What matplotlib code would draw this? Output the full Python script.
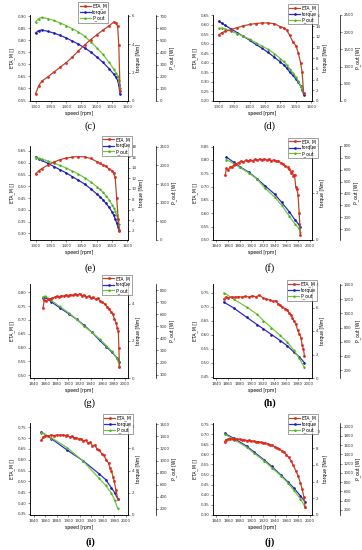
import matplotlib
matplotlib.use('Agg')
import matplotlib.pyplot as plt
from matplotlib.ticker import MultipleLocator, FormatStrFormatter

# ---- values ----
# (c)
spd_c = [1300, 1310, 1320, 1340, 1360, 1380, 1400, 1420, 1440, 1460, 1480, 1500,
         1520, 1540, 1555, 1562, 1568, 1572, 1576]
eta_c = [0.578, 0.61, 0.63, 0.648, 0.668, 0.688, 0.707, 0.73, 0.756, 0.78, 0.803, 0.823,
         0.842, 0.86, 0.875, 0.873, 0.86, 0.78, 0.59]
trq_c = [4.78, 4.95, 5.0, 4.9, 4.78, 4.62, 4.44, 4.22, 4.0, 3.75, 3.45, 3.1,
         2.72, 2.28, 1.9, 1.7, 1.45, 1.1, 0.5]
pout_c = [653, 680, 690, 680, 665, 645, 622, 598, 570, 535, 490, 440,
          385, 320, 265, 235, 205, 170, 110]

# (d)
spd_d = [1300, 1310, 1320, 1340, 1360, 1380, 1400, 1420, 1440, 1460, 1480, 1500,
         1510, 1520, 1530, 1540, 1550, 1558, 1565, 1570, 1575]
eta_d = [0.546, 0.558, 0.565, 0.575, 0.585, 0.595, 0.602, 0.607, 0.61, 0.61, 0.606, 0.59,
         0.585, 0.572, 0.545, 0.51, 0.49, 0.45, 0.40, 0.35, 0.24]
trq_d = [14.9, 14.6, 14.2, 13.5, 12.8, 12.1, 11.4, 10.6, 9.9, 9.1, 8.2, 7.3,
         6.8, 6.2, 5.4, 4.8, 4.1, 3.5, 2.8, 2.1, 1.2]
pout_d = [2110, 2120, 2100, 2030, 1960, 1880, 1800, 1700, 1600, 1500, 1380, 1230,
          1150, 1060, 930, 820, 700, 580, 450, 340, 230]

# (e)
spd_e = [1300, 1310, 1320, 1340, 1360, 1380, 1400, 1420, 1440, 1460, 1480, 1500,
         1510, 1520, 1530, 1540, 1550, 1555, 1560, 1565, 1570, 1573]
eta_e = [0.553, 0.565, 0.575, 0.59, 0.603, 0.613, 0.62, 0.624, 0.626, 0.625, 0.618, 0.605,
         0.597, 0.59, 0.585, 0.573, 0.567, 0.555, 0.54, 0.45, 0.36, 0.31]
trq_e = [16.0, 15.7, 15.4, 14.8, 14.2, 13.6, 13.0, 12.3, 11.6, 10.9, 10.0, 9.0,
         8.5, 7.9, 7.2, 6.5, 5.6, 5.0, 4.3, 3.5, 2.7, 2.2]
pout_e = [2210, 2190, 2170, 2120, 2060, 2000, 1930, 1850, 1770, 1670, 1560, 1430,
          1360, 1280, 1190, 1080, 950, 870, 780, 670, 530, 420]

# (f)
spd_f_eta = [1855, 1857, 1860, 1863, 1866, 1870, 1874, 1878, 1882, 1886, 1890, 1894,
             1898, 1902, 1906, 1910, 1914, 1918, 1922, 1926, 1930, 1934, 1938, 1942,
             1946, 1950, 1954, 1958, 1962, 1965, 1968, 1970, 1972, 1974, 1976, 1978,
             1980, 1982, 1984]
eta_f = [0.742, 0.768, 0.762, 0.772, 0.775, 0.78, 0.786, 0.79, 0.795, 0.792, 0.798, 0.795,
         0.80, 0.797, 0.802, 0.798, 0.803, 0.80, 0.804, 0.799, 0.802, 0.797, 0.80, 0.794,
         0.797, 0.789, 0.785, 0.778, 0.772, 0.765, 0.752, 0.757, 0.74, 0.745, 0.70, 0.69,
         0.67, 0.60, 0.52]
spd_f = [1857, 1870, 1880, 1895, 1910, 1923, 1940, 1952, 1965, 1975, 1981, 1984]
trq_f = [3.53, 3.3, 3.12, 2.89, 2.6, 2.31, 1.95, 1.6, 1.2, 0.85, 0.67, 0.57]
pout_f = [686, 650, 620, 575, 520, 445, 370, 300, 210, 140, 110, 75]

# (g)
spd_g_eta = [1856, 1858, 1861, 1864, 1868, 1872, 1876, 1880, 1884, 1888, 1892, 1896,
             1900, 1904, 1908, 1912, 1916, 1920, 1924, 1928, 1932, 1936, 1940, 1944,
             1948, 1952, 1956, 1960, 1964, 1968, 1972, 1975, 1978, 1981, 1984, 1986,
             1988, 1989, 1990]
eta_g = [0.745, 0.772, 0.768, 0.774, 0.776, 0.779, 0.782, 0.785, 0.783, 0.788, 0.786, 0.79,
         0.788, 0.792, 0.789, 0.794, 0.79, 0.795, 0.788, 0.79, 0.784, 0.786, 0.779, 0.782,
         0.774, 0.778, 0.768, 0.764, 0.758, 0.748, 0.74, 0.728, 0.722, 0.705, 0.69, 0.672,
         0.66, 0.60, 0.53]
spd_g = [1856, 1860, 1870, 1885, 1901, 1915, 1928, 1942, 1955, 1967, 1977, 1985, 1990]
trq_g = [4.28, 4.33, 4.1, 3.78, 3.45, 3.15, 2.83, 2.45, 2.03, 1.68, 1.38, 1.1, 0.87]
pout_g = [745, 750, 715, 665, 611, 558, 500, 450, 395, 340, 292, 240, 175]

# (h)
spd_h_eta = [1853, 1856, 1860, 1866, 1872, 1878, 1884, 1890, 1896, 1902, 1908, 1914,
             1920, 1926, 1932, 1938, 1942, 1946, 1950, 1954, 1958, 1962, 1965, 1968,
             1971, 1974, 1977, 1980, 1983, 1986, 1988, 1990, 1992]
eta_h = [0.728, 0.735, 0.733, 0.736, 0.734, 0.737, 0.735, 0.738, 0.735, 0.74, 0.736, 0.742,
         0.733, 0.728, 0.725, 0.72, 0.722, 0.712, 0.706, 0.70, 0.694, 0.69, 0.68, 0.672,
         0.662, 0.648, 0.64, 0.618, 0.605, 0.59, 0.565, 0.55, 0.525]
spd_h = [1853, 1870, 1892, 1910, 1921, 1935, 1950, 1962, 1974, 1983, 1992]
trq_h = [6.45, 5.95, 5.17, 4.55, 4.18, 3.7, 3.19, 2.75, 2.2, 1.8, 1.3]
pout_h = [1290, 1200, 1090, 990, 900, 800, 690, 600, 480, 370, 240]

# (i)
spd_i_eta = [1853, 1856, 1860, 1865, 1870, 1875, 1880, 1885, 1890, 1895, 1898, 1902,
             1906, 1910, 1914, 1918, 1922, 1926, 1930, 1934, 1938, 1942, 1946, 1950,
             1954, 1958, 1962, 1966, 1970, 1973, 1975, 1978, 1980, 1983, 1986]
eta_i = [0.69, 0.705, 0.712, 0.71, 0.714, 0.712, 0.715, 0.713, 0.716, 0.712, 0.714, 0.705,
         0.708, 0.70, 0.703, 0.695, 0.698, 0.688, 0.69, 0.678, 0.68, 0.665, 0.668, 0.65,
         0.645, 0.628, 0.62, 0.60, 0.585, 0.56, 0.55, 0.52, 0.50, 0.46, 0.42]
spd_i = [1853, 1870, 1898, 1926, 1953, 1965, 1975, 1981, 1986]
trq_i = [7.48, 6.9, 5.85, 4.88, 3.74, 3.2, 2.44, 2.0, 1.46]
pout_i = [1461, 1378, 1211, 989, 711, 590, 461, 340, 211]

# (j)
spd_j_eta = [1854, 1856, 1860, 1864, 1868, 1872, 1876, 1880, 1884, 1888, 1892, 1896,
             1900, 1904, 1908, 1912, 1916, 1920, 1924, 1928, 1932, 1936, 1940, 1944,
             1948, 1952, 1956, 1960, 1964, 1968, 1972, 1976, 1980, 1984, 1987, 1990, 1992]
eta_j = [0.662, 0.672, 0.675, 0.678, 0.676, 0.678, 0.674, 0.675, 0.671, 0.672, 0.668, 0.669,
         0.666, 0.666, 0.662, 0.663, 0.659, 0.658, 0.654, 0.652, 0.647, 0.644, 0.638, 0.632,
         0.627, 0.618, 0.61, 0.598, 0.585, 0.568, 0.545, 0.52, 0.495, 0.46, 0.43, 0.39, 0.34]
spd_j = [1854, 1870, 1892, 1905, 1921, 1935, 1950, 1962, 1973, 1984, 1992]
trq_j = [9.76, 9.15, 8.23, 7.5, 6.63, 5.8, 4.82, 4.0, 3.21, 2.3, 1.6]
pout_j = [1840, 1720, 1554, 1420, 1266, 1110, 942, 790, 619, 440, 260]

# ---- panel setup (limits, placement) ----
panels = [
    dict(tag='(c)', se=spd_c, eta=eta_c, st=spd_c, trq=trq_c, pout=pout_c,
         xlim=(1282, 1602), xstep=50, elim=(0.548, 0.905), tlim=(0, 6.05), tstep=2,
         plim=(0, 710), pstep=100, row=0, col=0, leg=(0.80, 1.15), bold=False),
    dict(tag='(d)', se=spd_d, eta=eta_d, st=spd_d, trq=trq_d, pout=pout_d,
         xlim=(1282, 1602), xstep=50, elim=(0.198, 0.652), tlim=(0, 16.1), tstep=2,
         plim=(0, 2500), pstep=500, row=0, col=1, leg=(1.06, 1.13), bold=False),
    dict(tag='(e)', se=spd_e, eta=eta_e, st=spd_e, trq=trq_e, pout=pout_e,
         xlim=(1282, 1602), xstep=50, elim=(0.272, 0.671), tlim=(0.27, 18.1), tstep=2,
         plim=(0, 2520), pstep=500, row=1, col=0, leg=(1.04, 1.11), bold=False),
    dict(tag='(f)', se=spd_f_eta, eta=eta_f, st=spd_f, trq=trq_f, pout=pout_f,
         xlim=(1834, 2004), xstep=20, elim=(0.50, 0.852), tlim=(0, 4.0), tstep=2,
         plim=(8, 800), pstep=100, row=1, col=1, leg=(1.06, 1.09), bold=False),
    dict(tag='(g)', se=spd_g_eta, eta=eta_g, st=spd_g, trq=trq_g, pout=pout_g,
         xlim=(1833, 2005), xstep=20, elim=(0.49, 0.83), tlim=(0, 5.05), tstep=2,
         plim=(72, 850), pstep=100, row=2, col=0, leg=(1.04, 1.10), bold=False),
    dict(tag='(h)', se=spd_h_eta, eta=eta_h, st=spd_h, trq=trq_h, pout=pout_h,
         xlim=(1834, 2005), xstep=20, elim=(0.446, 0.782), tlim=(0, 8), tstep=2,
         plim=(92, 1414), pstep=200, row=2, col=1, leg=(1.05, 1.04), bold=True),
    dict(tag='(i)', se=spd_i_eta, eta=eta_i, st=spd_i, trq=trq_i, pout=pout_i,
         xlim=(1833, 2004), xstep=20, elim=(0.345, 0.77), tlim=(0, 8.3), tstep=2,
         plim=(100, 1620), pstep=200, row=3, col=0, leg=(1.05, 1.10), bold=True),
    dict(tag='(j)', se=spd_j_eta, eta=eta_j, st=spd_j, trq=trq_j, pout=pout_j,
         xlim=(1834, 2004), xstep=20, elim=(0.30, 0.755), tlim=(0, 11), tstep=2,
         plim=(86, 2080), pstep=200, row=3, col=1, leg=(1.06, 1.10), bold=True),
]

W, H = 362, 550
rows = [(15, 101), (146, 240), (284, 378), (423, 515)]   # top, bottom in px
cols = [(30, 98), (213, 99)]                              # left, width in px
caps_y = [126, 268, 403, 542]
caps_x = [90, 270]

c_eta, c_eta_m = '#a8502e', '#e8241c'
c_trq, c_trq_m = '#2b2bd6', '#1c1ca8'
c_pout, c_pout_m = '#72c83a', '#4fae28'

fs = 2.9
plt.rcParams['font.family'] = ['DejaVu Sans']

fig = plt.figure(figsize=(W / 100, H / 100), dpi=100)


def style_ticks(a):
    a.tick_params(axis='both', direction='out', length=1.6, width=0.4,
                  labelsize=fs, pad=1, colors='#333333')
    for s in a.spines.values():
        s.set_linewidth(0.5)


for p in panels:
    top, bot = rows[p['row']]
    left, width = cols[p['col']]
    ax = fig.add_axes([left / W, 1 - bot / H, width / W, (bot - top) / H])
    ax2 = ax.twinx()
    ax3 = ax.twinx()
    ax3.spines['right'].set_position(('axes', 1 + 28 / width))

    l1, = ax.plot(p['se'], p['eta'], '-s', color=c_eta, mfc=c_eta_m, mec=c_eta_m,
                  lw=0.9, ms=0.9, zorder=3, label='ETA_M')
    l3, = ax3.plot(p['st'], p['pout'], '-^', color=c_pout, mfc=c_pout_m, mec=c_pout_m,
                   lw=0.9, ms=0.9, label='P_out')
    l2, = ax2.plot(p['st'], p['trq'], '-o', color=c_trq, mfc=c_trq_m, mec=c_trq_m,
                   lw=0.9, ms=0.9, label='torque')
    ax.set_zorder(ax3.get_zorder() + 1)
    ax.patch.set_visible(False)

    ax.set_xlim(*p['xlim'])
    ax.set_ylim(*p['elim'])
    ax2.set_ylim(*p['tlim'])
    ax3.set_ylim(*p['plim'])
    ax.xaxis.set_major_locator(MultipleLocator(p['xstep']))
    ax.yaxis.set_major_locator(MultipleLocator(0.05))
    ax.yaxis.set_major_formatter(FormatStrFormatter('%.2f'))
    ax2.yaxis.set_major_locator(MultipleLocator(p['tstep']))
    ax3.yaxis.set_major_locator(MultipleLocator(p['pstep']))
    for a in (ax, ax2, ax3):
        style_ticks(a)
    ax.spines['top'].set_visible(False)
    ax2.spines['top'].set_visible(False)
    ax3.spines['top'].set_visible(False)
    ax3.spines['left'].set_visible(False)
    ax3.spines['bottom'].set_visible(False)

    ax.set_xlabel('speed [rpm]', fontsize=fs + 0.4, labelpad=1.5)
    ax.set_ylabel('ETA_M []', fontsize=fs + 0.4, labelpad=2)
    ax2.set_ylabel('torque [Nm]', fontsize=fs + 0.4, labelpad=1.5)
    ax3.set_ylabel('P_out [W]', fontsize=fs + 0.4, labelpad=1.5)

    leg = ax.legend(handles=[l1, l2, l3], loc='upper right', bbox_to_anchor=p['leg'],
                    fontsize=fs + 0.4, frameon=True, fancybox=False, borderpad=0.3,
                    labelspacing=0.15, handlelength=2.4, handletextpad=0.3,
                    borderaxespad=0)
    leg.get_frame().set_linewidth(0.4)
    leg.get_frame().set_edgecolor('#333333')
    leg.set_zorder(10)

    fig.text(caps_x[p['col']] / W, 1 - caps_y[p['row']] / H, p['tag'],
             family='Liberation Serif', fontsize=7.5,
             fontweight='bold' if p['bold'] else 'normal', ha='center', va='center')

fig.savefig('out.png', dpi=100)
